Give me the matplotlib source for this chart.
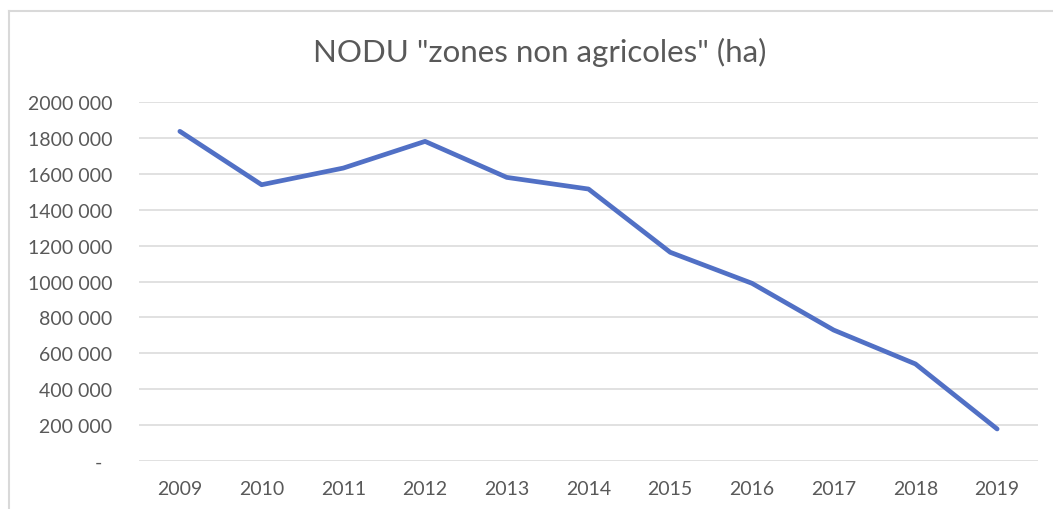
import matplotlib.pyplot as plt
from matplotlib.lines import Line2D
from matplotlib.ticker import FuncFormatter, MultipleLocator

years = ['2009', '2010', '2011', '2012', '2013', '2014',
         '2015', '2016', '2017', '2018', '2019']
hectares = [1838000, 1540000, 1633000, 1782000, 1581000, 1516000,
            1163000, 990000, 729000, 540000, 177000]

title = 'NODU "zones non agricoles" (ha)'

plt.rcParams['font.family'] = ['Lato', 'DejaVu Sans']
grey = '#595959'


def fmt(v, pos):
    v = int(round(v))
    if v == 0:
        return '-  '
    return '%d %03d' % (v // 1000, v % 1000)


fig = plt.figure(figsize=(10.53, 5.10), dpi=100)
# chart frame: only its left and top edges fall inside the image
fx, fy = 8.5 / 1053, 1 - 11.5 / 510
fig.lines.append(Line2D([fx, fx], [0, fy], transform=fig.transFigure,
                        color='#d9d9d9', linewidth=1.5))
fig.lines.append(Line2D([fx, 1], [fy, fy], transform=fig.transFigure,
                        color='#d9d9d9', linewidth=1.5))

ax = fig.add_axes([139 / 1053, 1 - 461.7 / 510, 899 / 1053, 358.4 / 510])
x = list(range(len(years)))
ax.plot(x, hectares, color='#5170c5', linewidth=3.4, solid_capstyle='round',
        solid_joinstyle='round', zorder=3)

ax.set_xlim(-0.5, len(years) - 0.5)
ax.set_ylim(0, 2000000)
ax.yaxis.set_major_locator(MultipleLocator(200000))
ax.yaxis.set_major_formatter(FuncFormatter(fmt))
ax.set_xticks(x)
ax.set_xticklabels(years)
ax.grid(axis='y', color='#d9d9d9', linewidth=1.1)
ax.set_axisbelow(True)
for s in ax.spines.values():
    s.set_visible(False)
ax.tick_params(axis='both', length=0, labelsize=14, labelcolor=grey)
ax.tick_params(axis='y', pad=19)
ax.tick_params(axis='x', pad=14)

fig.text(540 / 1053, 1 - 52 / 510, title, ha='center', va='center',
         fontsize=22.5, color=grey)

fig.savefig('out.png', dpi=100)
plt.close(fig)
